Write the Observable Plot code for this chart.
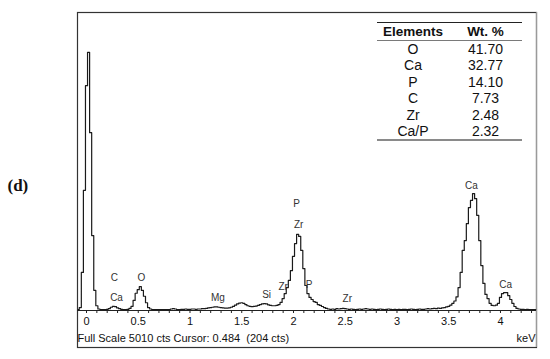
<!DOCTYPE html>
<html>
<head>
<meta charset="utf-8">
<script src="https://cdn.jsdelivr.net/npm/d3@7"></script>
<script src="https://cdn.jsdelivr.net/npm/@observablehq/plot@0.6"></script>
<style>
  html, body { margin: 0; padding: 0; background: #fff; }
  #wrap { position: relative; width: 550px; height: 359px; overflow: hidden; }
  #tbl { position: absolute; left: 377px; top: 22px; width: 145px; font-family: "Liberation Sans", Arial, sans-serif; color: #111; }
  #tbl .hdr { display: flex; border-top: 1px solid #222; border-bottom: 1.5px solid #7a7a7a; height: 17px; line-height: 17px; font-weight: bold; font-size: 13.5px; }
  #tbl .body { padding-top: 0; padding-bottom: 0; border-bottom: 2px solid #8a8a8a; }
  #tbl .row { display: flex; height: 16.4px; line-height: 16.4px; font-size: 14px; }
  #tbl .c1 { width: 72px; text-align: center; }
  #tbl .c2 { width: 73px; text-align: center; }
</style>
</head>
<body>
<div id="wrap"></div>
<script>
// ---- Data ----
// EDS spectrum: channel start (keV), channel width (keV), counts per channel
const channelStart = -0.08;
const channelWidth = 0.02;
const counts = [
  15, 50, 640, 2020,
  3780, 4340, 2990, 1260, 340,
  80, 25, 15, 15, 15,
  20, 30, 55, 70, 65,
  45, 30, 20, 15, 15,
  20, 35, 70, 170, 290,
  350, 400, 340, 240, 130,
  50, 25, 15, 15, 15,
  15, 15, 15, 15, 15,
  15, 25, 30, 25, 15,
  15, 20, 20, 25, 20,
  20, 25, 25, 20, 25,
  25, 30, 30, 35, 45,
  50, 55, 60, 60, 55,
  50, 45, 40, 40, 45,
  55, 70, 90, 110, 125,
  130, 120, 100, 80, 70,
  65, 70, 75, 85, 100,
  110, 115, 110, 95, 85,
  80, 80, 85, 100, 135,
  200, 285, 385, 505, 670,
  910, 1125, 1280, 1245, 1010,
  705, 420, 285, 220, 185,
  150, 135, 100, 85, 67,
  50, 35, 25, 20, 25,
  20, 30, 25, 30, 35,
  30, 25, 20, 25, 20,
  15, 20, 25, 20, 25,
  30, 25, 20, 25, 20,
  15, 20, 25, 20, 15,
  20, 25, 20, 15, 20,
  15, 20, 15, 20, 20,
  15, 20, 25, 20, 15,
  20, 25, 20, 20, 25,
  30, 25, 30, 35, 30,
  40, 35, 45, 50, 60,
  70, 90, 120, 160, 230,
  385, 640, 1010, 1175, 1460,
  1730, 1850, 1965, 1880, 1600,
  1175, 755, 455, 270, 200,
  120, 85, 80, 90, 120,
  220, 285, 300, 300, 250,
  185, 120, 67, 35, 25,
  20, 20, 15, 20, 15,
  15, 15, 15
];
const fullScale = 5010;
const xDomain = [-0.087, 4.348];

// peak labels
const peakText = ["C", "Ca", "O", "Mg", "Si", "Zr", "P", "Zr", "P", "Zr", "Ca", "Ca"];
const peakKeV  = [0.27, 0.29, 0.53, 1.27, 1.74, 1.90, 2.03, 2.05, 2.15, 2.52, 3.72, 4.05];
const peakCts  = [555, 220, 555, 220, 270, 405, 1800, 1445, 435, 200, 2100, 435];

// axis ticks
const minorTicks = [0,0.1,0.2,0.3,0.4,0.5,0.6,0.7,0.8,0.9,1,1.1,1.2,1.3,1.4,1.5,1.6,1.7,1.8,1.9,2,2.1,2.2,2.3,2.4,2.5,2.6,2.7,2.8,2.9,3,3.1,3.2,3.3,3.4,3.5,3.6,3.7,3.8,3.9,4,4.1,4.2,4.3];
const majorTicks = [0, 0.5, 1, 1.5, 2, 2.5, 3, 3.5, 4];
const majorLabels = ["0", "0.5", "1", "1.5", "2", "2.5", "3", "3.5", "4"];

// table
const elements = ["O", "Ca", "P", "C", "Zr", "Ca/P"];
const wtPercent = ["41.70", "32.77", "14.10", "7.73", "2.48", "2.32"];

const caption = "Full Scale 5010 cts Cursor: 0.484 \u00a0(204 cts)";
const unitLabel = "keV";
const panelLabel = "(d)";

// ---- Build ----
const spectrum = counts.map((c, i) => ({keV: channelStart + i * channelWidth, cts: c}));
const peaks = peakText.map((t, i) => ({t, x: peakKeV[i], y: peakCts[i]}));
const majors = majorTicks.map((v, i) => ({v, label: majorLabels[i]}));

const sans = "'Liberation Sans', Arial, sans-serif";

const chart = Plot.plot({
  width: 550,
  height: 359,
  marginLeft: 77,
  marginRight: 14,
  marginTop: 12,
  marginBottom: 49,
  style: {fontFamily: sans, background: "#fff", overflow: "visible"},
  x: {domain: xDomain, axis: null},
  y: {domain: [0, fullScale], axis: null},
  marks: [
    Plot.frame({stroke: "#333", strokeWidth: 1.2, insetBottom: -37}),
    Plot.ruleX([xDomain[1]], {stroke: "#9a9a9a", strokeWidth: 1.2, insetBottom: -37}),
    Plot.ruleY([0], {stroke: "#222", strokeWidth: 1.2}),
    Plot.tickX(minorTicks, {x: d => d, stroke: "#222", insetTop: 298, insetBottom: -3}),
    Plot.text(majors, {x: "v", text: "label", frameAnchor: "bottom", dy: 14, fontSize: 11, fill: "#111"}),
    Plot.line(spectrum, {x: "keV", y: "cts", curve: "step", stroke: "#1a1a1a", strokeWidth: 1.2}),
    Plot.text(peaks, {x: "x", y: "y", text: "t", fontSize: 10, fill: "#333"}),
    Plot.text([caption], {text: d => d, frameAnchor: "bottom-left", textAnchor: "start", dx: 0, dy: 31, fontSize: 11, fill: "#111"}),
    Plot.text([unitLabel], {text: d => d, frameAnchor: "bottom-right", textAnchor: "end", dx: -1, dy: 31, fontSize: 11, fill: "#111"}),
    Plot.text([panelLabel], {text: d => d, frameAnchor: "left", textAnchor: "start", dx: -70, dy: 24, fontSize: 17, fontWeight: "bold", fontFamily: "'Liberation Serif', 'DejaVu Serif', serif", fill: "#111"})
  ]
});

const wrap = document.getElementById("wrap");
wrap.appendChild(chart);

// results table
const tbl = d3.select(wrap).append("div").attr("id", "tbl");
const hdr = tbl.append("div").attr("class", "hdr");
hdr.append("div").attr("class", "c1").text("Elements");
hdr.append("div").attr("class", "c2").text("Wt. %");
const body = tbl.append("div").attr("class", "body");
elements.forEach((e, i) => {
  const r = body.append("div").attr("class", "row");
  r.append("div").attr("class", "c1").text(e);
  r.append("div").attr("class", "c2").text(wtPercent[i]);
});
</script>
</body>
</html>
